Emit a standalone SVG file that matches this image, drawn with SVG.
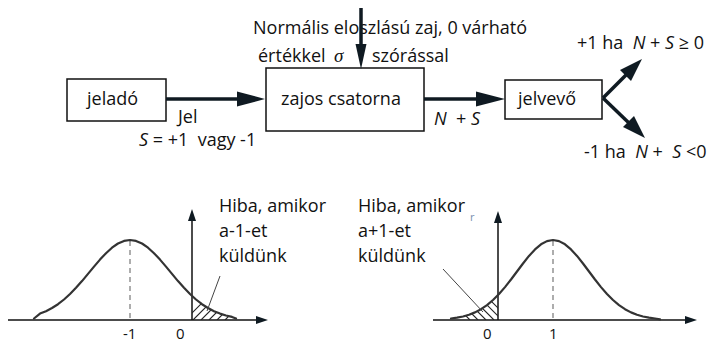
<svg xmlns="http://www.w3.org/2000/svg" width="710" height="344" viewBox="0 0 710 344">
<style>
text{font-family:"Open Sans","Noto Sans","Liberation Sans",sans-serif;font-size:18px;fill:#111;white-space:pre}
.m{font-style:italic}
.sig{font-family:"Liberation Serif","DejaVu Serif",serif;font-style:italic;font-size:19px}
.box{fill:#fff;stroke:#111;stroke-width:1.5}
.thick{stroke:#0f1a22;stroke-width:3.5;fill:none}
.ah{fill:#0f1a22}
.axis{stroke:#111;stroke-width:1.5;fill:none}
.curve{stroke:#333;stroke-width:2.2;fill:none;stroke-linejoin:round;stroke-linecap:round}
.dash{stroke:#777;stroke-width:1.2;stroke-dasharray:5 4;fill:none}
.hatch{stroke:#222;stroke-width:1.1}
.lead{stroke:#444;stroke-width:1}
.lbl{font-size:15px}
</style>
<defs>
<clipPath id="clipL"><polygon points="192,320 192,296 196,299.5 202,304.2 208,308 214,311.2 220,313.6 226,315.5 232,316.9 236,318.5 236,320"/></clipPath>
<clipPath id="clipR"><polygon points="451,320 451,318.5 457,317.7 463,316.5 469,314.7 475,312.4 481,309.2 487,305.1 493,300 498,295 498,320"/></clipPath>
</defs>

<g id="noise-label">
<text x="253" y="34">Normális eloszlású zaj, 0 várható</text>
<text x="258" y="62">értékkel</text>
<text class="sig" x="334" y="62">σ</text>
<text x="372" y="62">szórással</text>
</g>

<g id="jelado"><rect class="box" x="67" y="79" width="99" height="42"/><text x="87" y="105">jeladó</text></g>
<g id="csatorna"><rect class="box" x="266" y="68" width="158" height="63"/><text x="281" y="105">zajos csatorna</text></g>
<g id="jelvevo"><rect class="box" x="505" y="80" width="97" height="39"/><text x="518" y="105">jelvevő</text></g>

<g id="connectors">
<line class="thick" x1="361" y1="8" x2="361" y2="48"/>
<polygon class="ah" points="355.5,44 366.5,44 361,69"/>
<line class="thick" x1="166" y1="99" x2="240" y2="99"/>
<polygon class="ah" points="237,91.5 237,106.5 265,99"/>
<line class="thick" x1="424" y1="99" x2="479" y2="99"/>
<polygon class="ah" points="476,91.5 476,106.5 505,99"/>
<line class="thick" x1="603" y1="98" x2="628" y2="73"/>
<polygon class="ah" points="642,59 620,70 631,81"/>
<line class="thick" x1="603" y1="98" x2="630" y2="124"/>
<polygon class="ah" points="645,138 623,127 634,116"/>
</g>

<g id="labels">
<text x="178" y="123">Jel</text>
<text x="139" y="146"><tspan class="m">S</tspan> = +1  vagy -1</text>
<text x="434" y="125"><tspan class="m">N</tspan>  + <tspan class="m">S</tspan></text>
<text x="577" y="49">+1 ha  <tspan class="m">N</tspan> + <tspan class="m">S</tspan> ≥ 0</text>
<text x="584" y="158">-1 ha  <tspan class="m">N</tspan> +  <tspan class="m">S</tspan> &lt;0</text>
</g>

<g id="plot-left">
<line class="axis" x1="8" y1="320" x2="258" y2="320"/>
<polygon class="ah" points="268,320 256,316 256,324"/>
<line class="axis" x1="192" y1="320" x2="192" y2="219"/>
<polygon class="ah" points="192,209 188,221 196,221"/>
<line class="dash" x1="130" y1="241" x2="130" y2="320"/>
<g clip-path="url(#clipL)" class="hatch">
<line x1="185" y1="320" x2="215" y2="290"/>
<line x1="193" y1="320" x2="223" y2="290"/>
<line x1="201" y1="320" x2="231" y2="290"/>
<line x1="209" y1="320" x2="239" y2="290"/>
<line x1="217" y1="320" x2="247" y2="290"/>
<line x1="225" y1="320" x2="255" y2="290"/>
</g>
<polyline class="curve" points="34,318.5 40,313.6 46,311.2 52,308 58,304.2 64,299.5 70,294 76,287.8 82,281.1 88,273.9 94,266.6 100,259.6 106,253.2 112,247.7 118,243.5 124,240.9 130,240 136,240.9 142,243.5 148,247.7 154,253.2 160,259.6 166,266.6 172,273.9 178,281.1 184,287.8 190,294 196,299.5 202,304.2 208,308 214,311.2 220,313.6 226,315.5 232,316.9 236,318.5"/>
<line class="lead" x1="207" y1="311" x2="220" y2="276"/>
<text class="lbl" x="123" y="339">-1</text>
<text class="lbl" x="176" y="339">0</text>
<text x="219" y="212">Hiba, amikor</text>
<text x="219" y="237">a-1-et</text>
<text x="219" y="262">küldünk</text>
</g>

<g id="plot-right">
<line class="axis" x1="433" y1="320" x2="687" y2="320"/>
<polygon class="ah" points="697,320 685,316 685,324"/>
<line class="axis" x1="498" y1="320" x2="498" y2="221"/>
<polygon class="ah" points="498,211 494,223 502,223"/>
<line class="dash" x1="553" y1="241" x2="553" y2="320"/>
<g clip-path="url(#clipR)" class="hatch">
<line x1="440" y1="290" x2="470" y2="320"/>
<line x1="448" y1="290" x2="478" y2="320"/>
<line x1="456" y1="290" x2="486" y2="320"/>
<line x1="464" y1="290" x2="494" y2="320"/>
<line x1="472" y1="290" x2="502" y2="320"/>
<line x1="480" y1="290" x2="510" y2="320"/>
</g>
<polyline class="curve" points="451,318.5 457,317.7 463,316.5 469,314.7 475,312.4 481,309.2 487,305.1 493,300 499,294 505,287.1 511,279.5 517,271.5 523,263.5 529,255.9 535,249.4 541,244.3 547,241.1 553,240 559,241.1 565,244.3 571,249.4 577,255.9 583,263.5 589,271.5 595,279.5 601,287.1 607,294 613,300 619,305.1 625,309.2 631,312.4 637,314.7 643,316.5 649,317.7 655,318.5 660,319.3"/>
<line class="lead" x1="443" y1="269" x2="483" y2="312"/>
<text class="lbl" x="483" y="339">0</text>
<text class="lbl" x="549" y="339">1</text>
<text x="358" y="212">Hiba, amikor</text>
<text x="358" y="237">a+1-et</text>
<text x="358" y="262">küldünk</text>
<text x="470" y="221" style="font-size:11px;fill:#7a8fb0">r</text>
</g>
</svg>
